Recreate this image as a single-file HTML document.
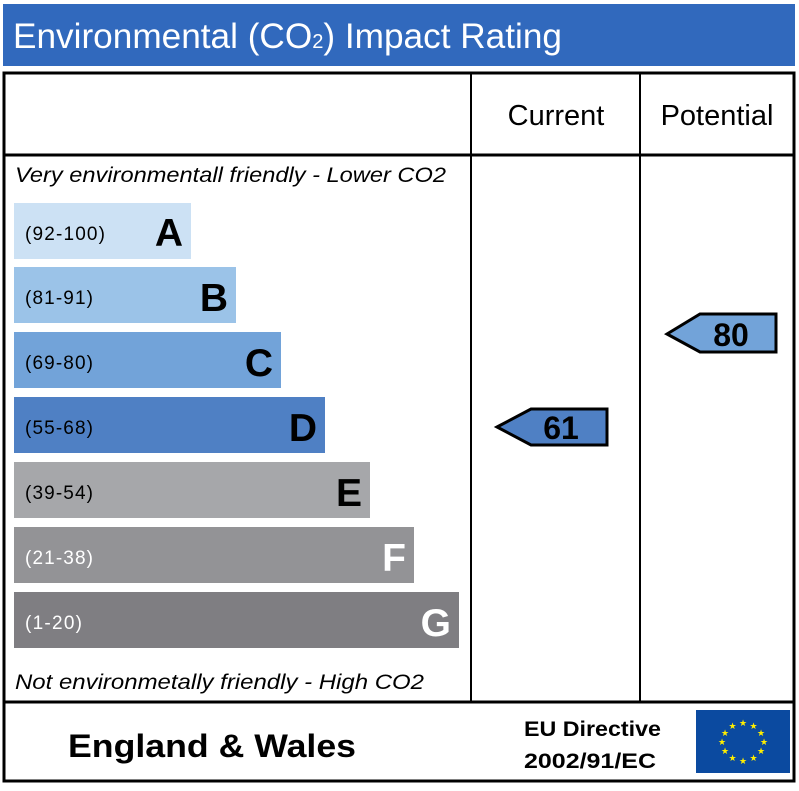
<!DOCTYPE html>
<html><head><style>body{margin:0;background:#fff}</style></head><body>
<svg width="799" height="786" xmlns="http://www.w3.org/2000/svg" font-family="Liberation Sans, sans-serif">
<rect x="3" y="4" width="792" height="62" fill="#3169bd"/>
<text x="13" y="48" fill="#fff" font-size="35" textLength="549" lengthAdjust="spacingAndGlyphs">Environmental (CO<tspan font-size="20">2</tspan>) Impact Rating</text>
<rect x="4" y="73" width="790" height="708" fill="none" stroke="#000" stroke-width="3"/>
<line x1="4" y1="155" x2="794" y2="155" stroke="#000" stroke-width="3"/>
<line x1="4" y1="702" x2="794" y2="702" stroke="#000" stroke-width="3"/>
<line x1="471" y1="73" x2="471" y2="702" stroke="#000" stroke-width="2"/>
<line x1="640" y1="73" x2="640" y2="702" stroke="#000" stroke-width="2"/>
<text x="556" y="125" font-size="29" text-anchor="middle">Current</text>
<text x="717" y="125" font-size="29" text-anchor="middle">Potential</text>
<text x="15" y="182" font-size="21" font-style="italic" textLength="431" lengthAdjust="spacingAndGlyphs">Very environmentall friendly - Lower CO2</text>
<text x="15" y="689" font-size="21" font-style="italic" textLength="409" lengthAdjust="spacingAndGlyphs">Not environmetally friendly - High CO2</text>
<g font-size="19">
<rect x="14" y="203" width="177" height="56" fill="#cce1f4"/><text x="25" y="240" textLength="80">(92-100)</text><text x="183" y="246" font-size="39" font-weight="bold" text-anchor="end">A</text>
<rect x="14" y="267" width="222" height="56" fill="#9bc3e8"/><text x="25" y="304" textLength="68">(81-91)</text><text x="228" y="311" font-size="39" font-weight="bold" text-anchor="end">B</text>
<rect x="14" y="332" width="267" height="56" fill="#72a3d9"/><text x="25" y="369" textLength="68">(69-80)</text><text x="273" y="376" font-size="39" font-weight="bold" text-anchor="end">C</text>
<rect x="14" y="397" width="311" height="56" fill="#4f80c4"/><text x="25" y="434" textLength="68">(55-68)</text><text x="317" y="441" font-size="39" font-weight="bold" text-anchor="end">D</text>
<rect x="14" y="462" width="356" height="56" fill="#a6a7aa"/><text x="25" y="499" textLength="68">(39-54)</text><text x="362" y="506" font-size="39" font-weight="bold" text-anchor="end">E</text>
<rect x="14" y="527" width="400" height="56" fill="#939396"/><text x="25" y="564" fill="#fff" textLength="68">(21-38)</text><text x="406" y="571" font-size="39" font-weight="bold" text-anchor="end" fill="#fff">F</text>
<rect x="14" y="592" width="445" height="56" fill="#7f7e82"/><text x="25" y="629" fill="#fff" textLength="57">(1-20)</text><text x="451" y="636" font-size="39" font-weight="bold" text-anchor="end" fill="#fff">G</text>
</g>
<polygon points="497,427 531,409 607,409 607,445 531,445" fill="#4f80c4" stroke="#000" stroke-width="3"/>
<text x="561" y="439" font-size="32" font-weight="bold" text-anchor="middle">61</text>
<polygon points="667,334 700,314 776,314 776,352 700,352" fill="#72a3d9" stroke="#000" stroke-width="3"/>
<text x="731" y="346" font-size="32" font-weight="bold" text-anchor="middle">80</text>
<text x="68" y="757" font-size="32" font-weight="bold" textLength="288" lengthAdjust="spacingAndGlyphs">England &amp; Wales</text>
<text x="524" y="736" font-size="21" font-weight="bold" textLength="137" lengthAdjust="spacingAndGlyphs">EU Directive</text>
<text x="524" y="768" font-size="21" font-weight="bold" textLength="132" lengthAdjust="spacingAndGlyphs">2002/91/EC</text>
<rect x="696" y="710" width="94" height="63" fill="#0b4aa0"/>
<g fill="#fe0" font-size="9" text-anchor="middle">
<text x="743" y="726">★</text><text x="753.5" y="729">★</text><text x="761" y="736">★</text><text x="764" y="745">★</text><text x="761" y="754">★</text><text x="753.5" y="761">★</text><text x="743" y="764">★</text><text x="732.5" y="761">★</text><text x="725" y="754">★</text><text x="722" y="745">★</text><text x="725" y="736">★</text><text x="732.5" y="729">★</text>
</g>
</svg>
</body></html>
